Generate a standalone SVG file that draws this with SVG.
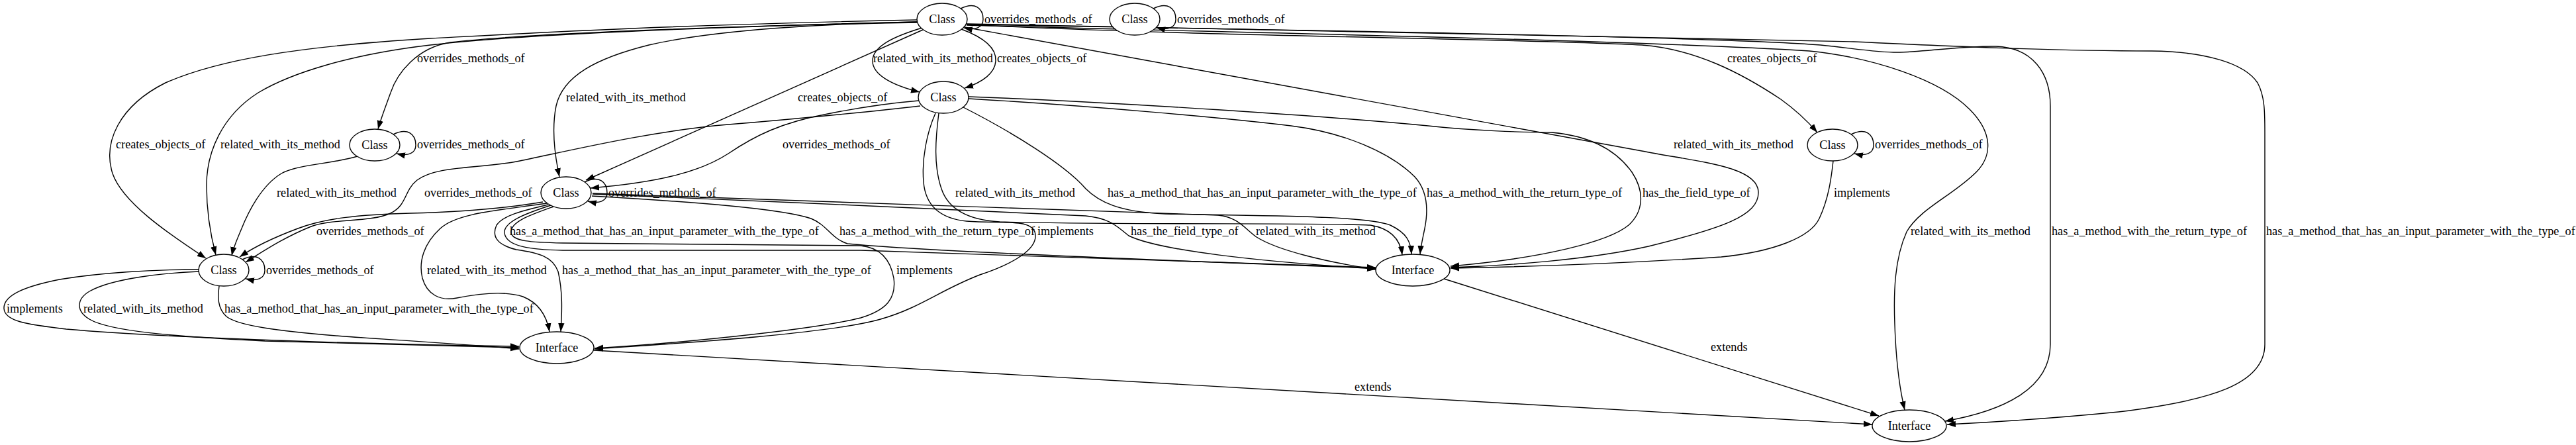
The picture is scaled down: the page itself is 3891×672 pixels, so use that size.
<svg xmlns="http://www.w3.org/2000/svg" width="3891" height="672" viewBox="0 0 3891 672">
<defs>
<marker id="ah" markerUnits="userSpaceOnUse" markerWidth="14" markerHeight="10" refX="13" refY="5" orient="auto"><path d="M0,0.3 L13,5 L0,9.7 z" fill="#000"/></marker>
<style>
.n ellipse{fill:#fff;stroke:#000;stroke-width:1.4}
.e path{fill:none;stroke:#000;stroke-width:1.4;marker-end:url(#ah)}
text{font-family:"Liberation Serif","Times New Roman",serif;font-size:18.2px;fill:#000}
.n text{text-anchor:middle}
</style>
</defs>
<rect width="3891" height="672" fill="#fff"/>
<g id="edges" class="e">
<path d="M1451,13 C1473,2 1485,13 1485,29 C1485,42 1473,46 1456,42"/>
<path d="M1742,13 C1764,2 1776,13 1776,29 C1776,42 1764,46 1747,42"/>
<path d="M594,203 C616,192 628,203 628,219 C628,232 616,236 599,232"/>
<path d="M883,275 C905,264 917,275 917,291 C917,304 905,308 888,304"/>
<path d="M2796,203 C2818,192 2830,203 2830,219 C2830,232 2818,236 2801,232"/>
<path d="M366,392 C388,381 400,392 400,408 C400,421 388,425 371,421"/>
<path d="M1386,30 C1000,38 800,50 650,58 C450,70 330,90 250,125 C180,160 155,215 170,262 C185,305 250,350 311,390"/>
<path d="M1386,33 C1100,40 800,50 650,68 C530,82 440,110 390,140 C335,175 312,230 312,280 C312,320 318,355 326,385"/>
<path d="M1386,33 C1100,40 800,50 680,64 C630,72 600,110 590,140 C582,162 575,180 571,195"/>
<path d="M1387,34 C1250,35 1080,45 980,68 C900,88 850,115 840,160 C833,195 838,235 845,267"/>
<path d="M1394,45 L885,272"/>
<path d="M1393,42 C1350,55 1318,70 1318,92 C1318,112 1345,128 1389,139"/>
<path d="M1452,44 C1490,58 1505,75 1504,92 C1503,110 1485,124 1457,133"/>
<path d="M1460,37 C1800,55 2300,58 2480,68 C2560,74 2630,110 2690,150 C2715,168 2732,185 2745,200"/>
<path d="M1457,41 L2480,228 C2560,244 2655,250 2656,290 C2657,326 2600,345 2490,372 C2400,392 2280,401 2191,404"/>
<path d="M1460,38 C1900,50 2450,60 2733,77 C2830,87 2930,120 2975,165 C3010,200 3010,235 2985,260 C2950,295 2900,315 2880,350 C2862,390 2860,440 2862,490 C2864,550 2870,590 2877,619"/>
<path d="M1460,37 C2000,46 2600,56 2750,68 C2800,73 2840,80 2870,79 C2920,77 2970,69 3015,70 C3070,72 3097,110 3097,160 L3097,520 C3097,585 3030,620 2938,636"/>
<path d="M1460,36 C2000,47 2600,55 2800,63 C2950,70 3100,77 3250,77 C3330,78 3390,95 3410,125 C3421,145 3421,170 3421,200 L3421,520 C3421,580 3340,605 3200,622 C3100,632 3000,638 2941,641"/>
<path d="M1388,152 C1340,156 1300,162 1250,172 C1180,185 1140,205 1100,232 C1060,258 1000,275 892,284"/>
<path d="M1390,160 C1340,166 1200,180 1100,188 C980,198 850,230 780,244 C720,255 660,250 630,272 C610,288 615,310 590,322 C560,336 500,330 470,342 C430,358 400,378 371,396"/>
<path d="M1418,171 C1413,210 1410,250 1422,285 C1432,315 1460,332 1510,335 C1700,340 2000,336 2070,340 C2100,345 2115,360 2118,385"/>
<path d="M1413,171 C1400,200 1392,240 1395,275 C1398,310 1420,330 1460,334 C1510,338 1555,330 1563,350 C1570,372 1540,395 1480,415 C1420,438 1390,465 1330,482 C1250,505 1000,520 898,527"/>
<path d="M1455,162 C1530,200 1610,250 1640,285 C1660,305 1690,320 1760,323 C1900,326 2060,325 2100,340 C2125,352 2131,365 2132,384"/>
<path d="M1463,149 C1650,160 1850,178 1950,190 C2030,200 2100,230 2137,267 C2158,290 2157,320 2152,345 C2149,360 2146,372 2145,384"/>
<path d="M1463,146 C1700,155 2000,175 2157,190 C2220,197 2300,200 2344,200 C2400,205 2440,225 2465,260 C2485,290 2482,320 2460,340 C2430,365 2330,390 2191,402"/>
<path d="M820,305 C760,315 700,320 620,322 C540,324 490,330 450,345 C410,360 385,372 362,388"/>
<path d="M826,307 C750,318 690,322 665,345 C640,368 632,395 638,420 C645,445 665,455 690,450 C720,444 760,438 790,448 C815,458 826,478 830,501"/>
<path d="M828,309 C790,318 760,325 750,340 C742,358 752,370 780,377 C815,382 835,388 843,410 C850,440 849,470 847,501"/>
<path d="M836,312 C800,325 770,335 772,352 C775,364 800,366 850,367 C1000,369 1200,369 1300,371 C1330,374 1345,392 1350,420 C1354,450 1340,468 1300,480 C1220,500 1000,520 898,526"/>
<path d="M832,310 C795,322 760,335 762,352 C765,372 800,377 850,378 L1300,378 C1500,385 1800,395 2078,404"/>
<path d="M894,296 C1050,305 1180,315 1225,330 C1250,340 1255,360 1280,368 C1400,380 1800,395 2078,405"/>
<path d="M895,293 C1100,302 1500,318 1640,326 C1680,330 1690,345 1705,356 C1750,378 1900,395 2078,406"/>
<path d="M895,292 C1100,298 1600,318 1840,325 C1870,328 1880,345 1898,358 C1930,378 2000,395 2078,407"/>
<path d="M2769,243 C2766,270 2762,300 2748,330 C2735,358 2680,380 2600,388 C2450,398 2300,403 2191,405"/>
<path d="M540,236 C500,248 450,248 425,262 C395,280 375,320 365,345 C358,362 353,372 350,386"/>
<path d="M300,407 C230,407 150,412 90,422 C40,432 5,445 6,466 C7,485 40,490 100,497 C250,510 550,520 784,523"/>
<path d="M301,410 C250,412 170,420 135,440 C115,452 115,470 135,482 C165,500 260,508 400,515 C550,520 700,523 784,525"/>
<path d="M331,432 C329,448 328,465 342,478 C360,492 420,500 520,508 C620,515 720,521 784,527"/>
<path d="M897,529 L2828,641"/>
<path d="M2181,421 L2838,628"/>
</g>
<g id="edge-labels">
<text x="1487" y="35">overrides_methods_of</text>
<text x="1778" y="35">overrides_methods_of</text>
<text x="630" y="94">overrides_methods_of</text>
<text x="1319" y="94">related_with_its_method</text>
<text x="1506" y="94">creates_objects_of</text>
<text x="2609" y="94">creates_objects_of</text>
<text x="855" y="153">related_with_its_method</text>
<text x="1205" y="153">creates_objects_of</text>
<text x="175" y="224">creates_objects_of</text>
<text x="333" y="224">related_with_its_method</text>
<text x="630" y="224">overrides_methods_of</text>
<text x="1182" y="224">overrides_methods_of</text>
<text x="2528" y="224">related_with_its_method</text>
<text x="2832" y="224">overrides_methods_of</text>
<text x="418" y="297">related_with_its_method</text>
<text x="641" y="297">overrides_methods_of</text>
<text x="919" y="297">overrides_methods_of</text>
<text x="1443" y="297">related_with_its_method</text>
<text x="1673" y="297">has_a_method_that_has_an_input_parameter_with_the_type_of</text>
<text x="2155" y="297">has_a_method_with_the_return_type_of</text>
<text x="2481" y="297">has_the_field_type_of</text>
<text x="2770" y="297">implements</text>
<text x="478" y="355">overrides_methods_of</text>
<text x="770" y="355">has_a_method_that_has_an_input_parameter_with_the_type_of</text>
<text x="1268" y="355">has_a_method_with_the_return_type_of</text>
<text x="1567" y="355">implements</text>
<text x="1708" y="355">has_the_field_type_of</text>
<text x="1897" y="355">related_with_its_method</text>
<text x="2886" y="355">related_with_its_method</text>
<text x="3099" y="355">has_a_method_with_the_return_type_of</text>
<text x="3423" y="355">has_a_method_that_has_an_input_parameter_with_the_type_of</text>
<text x="402" y="414">overrides_methods_of</text>
<text x="645" y="414">related_with_its_method</text>
<text x="849" y="414">has_a_method_that_has_an_input_parameter_with_the_type_of</text>
<text x="1354" y="414">implements</text>
<text x="10" y="472">implements</text>
<text x="126" y="472">related_with_its_method</text>
<text x="339" y="472">has_a_method_that_has_an_input_parameter_with_the_type_of</text>
<text x="2584" y="530">extends</text>
<text x="2046" y="590">extends</text>
</g>
<g id="nA" class="n"><ellipse cx="1423" cy="29" rx="38" ry="24"/><text x="1423" y="35">Class</text></g>
<g id="nB" class="n"><ellipse cx="1714" cy="29" rx="38" ry="24"/><text x="1714" y="35">Class</text></g>
<g id="nC" class="n"><ellipse cx="1425" cy="147" rx="38" ry="24"/><text x="1425" y="153">Class</text></g>
<g id="nD" class="n"><ellipse cx="566" cy="219" rx="38" ry="24"/><text x="566" y="225">Class</text></g>
<g id="nE" class="n"><ellipse cx="855" cy="291" rx="38" ry="24"/><text x="855" y="297">Class</text></g>
<g id="nF" class="n"><ellipse cx="2768" cy="219" rx="38" ry="24"/><text x="2768" y="225">Class</text></g>
<g id="nG" class="n"><ellipse cx="338" cy="408" rx="38" ry="24"/><text x="338" y="414">Class</text></g>
<g id="nH" class="n"><ellipse cx="2134" cy="408" rx="56" ry="24"/><text x="2134" y="414">Interface</text></g>
<g id="nI" class="n"><ellipse cx="841" cy="525" rx="56" ry="24"/><text x="841" y="531">Interface</text></g>
<g id="nJ" class="n"><ellipse cx="2884" cy="643" rx="56" ry="24"/><text x="2884" y="649">Interface</text></g>
</svg>
